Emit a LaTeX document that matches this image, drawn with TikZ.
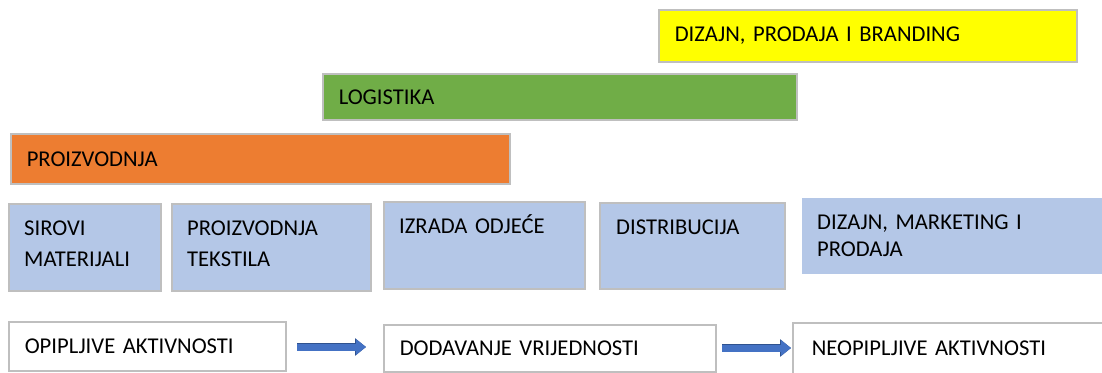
\documentclass[tikz,border=0pt]{standalone}
\usepackage{fontspec}
\setmainfont{Carlito}
\usetikzlibrary{arrows.meta}

\definecolor{orangebar}{HTML}{ED7D31}
\definecolor{greenbar}{HTML}{70AD47}
\definecolor{yellowbar}{HTML}{FFFF00}
\definecolor{bluebox}{HTML}{B4C7E7}
\definecolor{edgegray}{HTML}{BFBFBF}
\definecolor{arrowblue}{HTML}{4472C4}
\definecolor{arrowdark}{HTML}{2F528F}

\newcommand{\txt}{\fontsize{22.6}{31}\selectfont}
\newcommand{\topline}{\rule{0pt}{20pt}}

\tikzset{
    bar/.style={draw=edgegray, line width=1.5pt, anchor=north west, inner xsep=16pt, inner ysep=0pt, align=left, font=\txt},
    blk/.style={fill=bluebox, draw=edgegray, line width=1.5pt, anchor=north west, inner sep=0pt},
    blktext/.style={anchor=north west, inner sep=0pt, align=left, font=\txt},
    edge/.style={draw=edgegray, line width=1.5pt},
    flow/.style={line width=7pt, arrowblue, -{Triangle[length=10pt,width=15pt]},
        preaction={draw=arrowdark, line width=8.5pt, -{Triangle[length=11pt,width=17pt]}}}
}

\begin{document}
\begin{tikzpicture}[x=1pt, y=-1pt]
        \useasboundingbox (0,0) rectangle (1102,372);
        % trake
        \node[bar, fill=yellowbar, minimum width=418pt, minimum height=52pt, text width=386pt] (brand) at (658,9) {DIZAJN, PRODAJA I BRANDING};
        \node[bar, fill=greenbar, minimum width=474pt, minimum height=46pt, text width=442pt] (log) at (322,73) {LOGISTIKA};
        \node[bar, fill=orangebar, minimum width=499pt, minimum height=50pt, text width=467pt] (proiz) at (10,133) {PROIZVODNJA};
        % lanac
        \node[blk, minimum width=152pt, minimum height=87pt] (sir) at (8,203) {};
        \node[blk, minimum width=199pt, minimum height=87pt] (tek) at (171,203) {};
        \node[blk, minimum width=201pt, minimum height=87pt] (odj) at (383,201) {};
        \node[blk, minimum width=185pt, minimum height=86pt] (dis) at (599,202) {};
        \node[blk, draw=none, minimum width=310pt, minimum height=76pt] (diz) at (801,197) {};
        \node[blktext, text width=130pt] (sir-t) at ([shift={(16,12)}]sir.north west) {\topline SIROVI\\MATERIJALI};
        \node[blktext, text width=170pt] (tek-t) at ([shift={(16,12)}]tek.north west) {\topline PROIZVODNJA\\TEKSTILA};
        \node[blktext, text width=170pt] (odj-t) at ([shift={(16,12)}]odj.north west) {\topline IZRADA ODJEĆE};
        \node[blktext, text width=160pt] (dis-t) at ([shift={(17,12)}]dis.north west) {\topline DISTRIBUCIJA};
        \node[blktext, text width=270pt, font=\fontsize{22.6}{27}\selectfont] (diz-t) at ([shift={(16,12)}]diz.north west) {\topline DIZAJN, MARKETING I\\PRODAJA};
        % aktivnosti
        \node[bar, minimum width=277pt, minimum height=49pt, text width=245pt] (opip) at (8,321) {OPIPLJIVE AKTIVNOSTI};
        \node[bar, minimum width=332pt, minimum height=47pt, text width=300pt] (dod) at (383,324) {DODAVANJE VRIJEDNOSTI};
        \node[bar, draw=none, inner xsep=18pt, minimum width=330pt, minimum height=48pt, text width=294pt] (neo) at (793,323) {NEOPIPLJIVE AKTIVNOSTI};
        \draw[edge] ([yshift=-6pt]neo.south west) -- (neo.north west) -- (neo.north east);
        \coordinate (a1) at (297,347);
        \coordinate (a2) at (722,348);
        \draw[flow, shorten >=17pt] (a1) -- (a1 -| dod.west);
        \draw[flow, shorten >=2pt] (a2) -- (a2 -| neo.west);
    \end{tikzpicture}
\end{document}
